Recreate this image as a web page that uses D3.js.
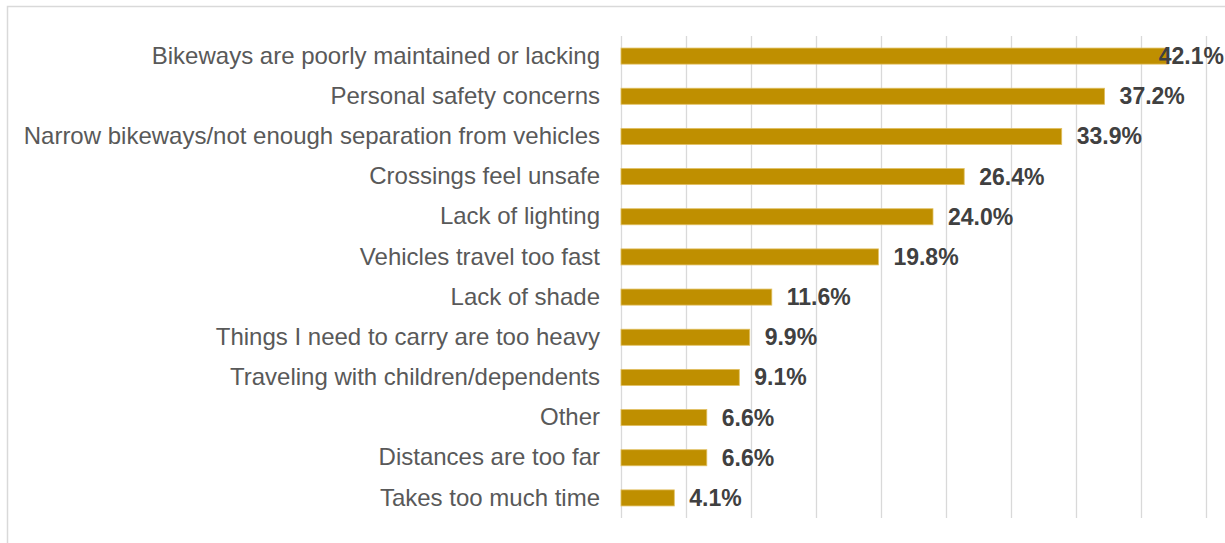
<!DOCTYPE html>
<html>
<head>
<meta charset="utf-8">
<script src="https://cdn.jsdelivr.net/npm/d3@7/dist/d3.min.js"></script>
<style>
  html, body { margin: 0; padding: 0; background: #fff; }
  svg { display: block; }
</style>
</head>
<body>
<svg id="chart" width="1225" height="543"></svg>
<script>
// Reported barriers to bicycling (share of respondents)
const categories = [
  "Bikeways are poorly maintained or lacking",
  "Personal safety concerns",
  "Narrow bikeways/not enough separation from vehicles",
  "Crossings feel unsafe",
  "Lack of lighting",
  "Vehicles travel too fast",
  "Lack of shade",
  "Things I need to carry are too heavy",
  "Traveling with children/dependents",
  "Other",
  "Distances are too far",
  "Takes too much time"
];
const values = [42.1, 37.2, 33.9, 26.4, 24.0, 19.8, 11.6, 9.9, 9.1, 6.6, 6.6, 4.1];
const gridTicks = [0, 5, 10, 15, 20, 25, 30, 35, 40, 45];

const svg = d3.select("#chart");
const W = 1225, H = 543;
const plot = { left: 621, right: 1206, top: 36, bottom: 518 };

// chart frame
svg.append("rect")
  .attr("x", 7.5).attr("y", 6.5)
  .attr("width", W + 10).attr("height", H + 10)
  .attr("fill", "#fff").attr("stroke", "#d9d9d9").attr("stroke-width", 1.5);

const x = d3.scaleLinear().domain([0, 45]).range([plot.left, plot.right]);
const y = d3.scaleBand().domain(categories).range([plot.top, plot.bottom]).paddingInner(0.6).paddingOuter(0.3);

// vertical gridlines
svg.append("g").selectAll("line").data(gridTicks).join("line")
  .attr("x1", d => Math.round(x(d)) + 0.5).attr("x2", d => Math.round(x(d)) + 0.5)
  .attr("y1", plot.top).attr("y2", plot.bottom)
  .attr("stroke", "#d9d9d9").attr("stroke-width", 1.3);

// category labels
const yAxis = d3.axisLeft(y).tickSize(0).tickPadding(21);
const ga = svg.append("g").attr("transform", `translate(${plot.left},0)`).call(yAxis);
ga.select(".domain").remove();
ga.selectAll("text")
  .attr("font-family", "'Liberation Sans', Arial, sans-serif")
  .attr("font-size", 24)
  .attr("fill", "#595959");

// bars
const data = categories.map((c, i) => ({ c, v: values[i] }));
svg.append("g").selectAll("rect").data(data).join("rect")
  .attr("x", x(0))
  .attr("y", d => y(d.c))
  .attr("width", d => x(d.v) - x(0))
  .attr("height", y.bandwidth())
  .attr("fill", "#bf8f00")
  .attr("stroke", "#e2c062").attr("stroke-width", 0.8);

// value labels
const labelRight = 1224;
svg.append("g").selectAll("text").data(data).join("text")
  .attr("font-family", "'Liberation Sans', Arial, sans-serif")
  .attr("font-size", 23)
  .attr("font-weight", "bold")
  .attr("fill", "#404040")
  .attr("y", d => y(d.c) + y.bandwidth() / 2)
  .attr("dy", "0.35em")
  .text(d => d.v.toFixed(1) + "%")
  .each(function(d) {
    const w = this.getComputedTextLength();
    const px = Math.min(x(d.v) + 15, labelRight - w);
    d3.select(this).attr("x", px);
  });
</script>
</body>
</html>
